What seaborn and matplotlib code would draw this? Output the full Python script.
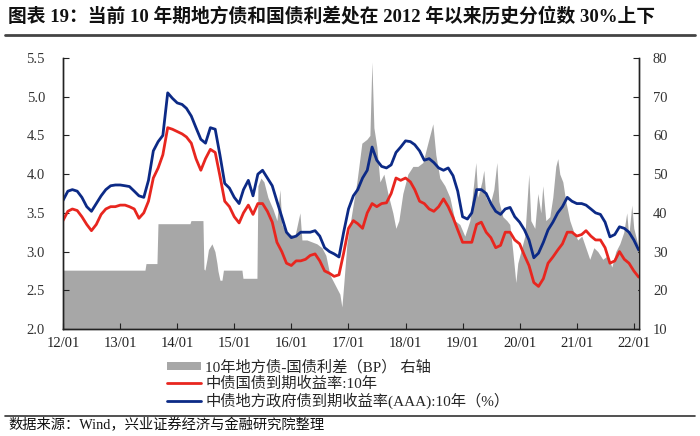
import numpy as np
import pandas as pd
import matplotlib
matplotlib.use('Agg')
import matplotlib.pyplot as plt
from matplotlib.patches import Patch
from matplotlib.lines import Line2D
import seaborn as sns

# ---------------- data ----------------
months = pd.date_range('2012-01-01', '2022-02-01', freq='MS')

# 中债国债到期收益率:10年 (%), monthly
gov_10y = [
    3.40, 3.52, 3.55, 3.53, 3.45, 3.35, 3.27, 3.35, 3.48, 3.55, 3.58, 3.58,  # 2012
    3.60, 3.60, 3.58, 3.55, 3.43, 3.50, 3.65, 3.95, 4.08, 4.25, 4.60, 4.58,  # 2013
    4.55, 4.52, 4.48, 4.40, 4.20, 4.05, 4.20, 4.32, 4.28, 3.98, 3.65, 3.58,  # 2014
    3.45, 3.37, 3.50, 3.60, 3.48, 3.62, 3.62, 3.52, 3.38, 3.12, 3.00, 2.85,  # 2015
    2.82, 2.88, 2.88, 2.90, 2.95, 2.97, 2.88, 2.75, 2.72, 2.68, 2.70, 2.98,  # 2016
    3.30, 3.40, 3.36, 3.30, 3.50, 3.62, 3.58, 3.62, 3.63, 3.75, 3.95, 3.92,  # 2017
    3.95, 3.90, 3.80, 3.65, 3.62, 3.55, 3.52, 3.58, 3.68, 3.58, 3.44, 3.28,  # 2018
    3.12, 3.12, 3.12, 3.35, 3.38, 3.25, 3.18, 3.05, 3.08, 3.25, 3.25, 3.15,  # 2019
    3.10, 2.95, 2.82, 2.60, 2.55, 2.65, 2.85, 2.93, 3.02, 3.10, 3.25, 3.25,  # 2020
    3.20, 3.22, 3.27, 3.20, 3.15, 3.15, 3.05, 2.85, 2.88, 3.00, 2.90, 2.85,  # 2021
    2.75, 2.67,                                                              # 2022
]

# 中债地方政府债到期收益率(AAA):10年 (%), monthly
local_10y = [
    3.66, 3.78, 3.80, 3.78, 3.70, 3.58, 3.52, 3.62, 3.72, 3.80, 3.85, 3.86,  # 2012
    3.86, 3.85, 3.84, 3.78, 3.72, 3.70, 3.92, 4.30, 4.42, 4.50, 5.05, 4.98,  # 2013
    4.92, 4.90, 4.85, 4.75, 4.60, 4.45, 4.40, 4.60, 4.58, 4.25, 3.88, 3.82,  # 2014
    3.70, 3.62, 3.80, 3.92, 3.72, 4.00, 4.05, 3.95, 3.85, 3.65, 3.45, 3.25,  # 2015
    3.18, 3.20, 3.25, 3.25, 3.25, 3.27, 3.20, 3.05, 3.00, 2.97, 2.93, 3.25,  # 2016
    3.55, 3.72, 3.80, 3.95, 4.05, 4.35, 4.18, 4.10, 4.08, 4.12, 4.28, 4.35,  # 2017
    4.43, 4.42, 4.38, 4.30, 4.18, 4.20, 4.15, 4.08, 4.05, 4.08, 3.98, 3.78,  # 2018
    3.45, 3.42, 3.50, 3.80, 3.80, 3.75, 3.62, 3.52, 3.48, 3.55, 3.57, 3.45,  # 2019
    3.38, 3.28, 3.15, 2.92, 2.98, 3.12, 3.28, 3.38, 3.50, 3.58, 3.70, 3.65,  # 2020
    3.62, 3.62, 3.60, 3.55, 3.50, 3.48, 3.38, 3.19, 3.22, 3.32, 3.30, 3.25,  # 2021
    3.15, 3.02,                                                              # 2022
]

# 10年地方债-国债利差 (BP), irregular observation times in decimal years
spread_t = [
    2012.000, 2013.436, 2013.454, 2013.646, 2013.664, 2014.224, 2014.242,
    2014.452, 2014.469, 2014.487, 2014.522, 2014.548, 2014.609, 2014.662,
    2014.697, 2014.715, 2014.750, 2014.785, 2014.811, 2015.135, 2015.153,
    2015.398, 2015.415, 2015.468, 2015.520, 2015.590, 2015.678, 2015.748,
    2015.800, 2015.835, 2015.905, 2015.975, 2016.063, 2016.151, 2016.186,
    2016.273, 2016.361, 2016.448, 2016.536, 2016.606, 2016.676, 2016.781,
    2016.851, 2016.886, 2016.921, 2016.974, 2017.061, 2017.149, 2017.236,
    2017.324, 2017.377, 2017.412, 2017.447, 2017.499, 2017.552, 2017.622,
    2017.692, 2017.779, 2017.832, 2017.884, 2017.954, 2018.042, 2018.130,
    2018.217, 2018.305, 2018.392, 2018.480, 2018.532, 2018.602, 2018.690,
    2018.778, 2018.865, 2018.953, 2019.040, 2019.128, 2019.198, 2019.233,
    2019.268, 2019.338, 2019.373, 2019.408, 2019.478, 2019.548, 2019.601,
    2019.636, 2019.706, 2019.776, 2019.828, 2019.881, 2019.934, 2019.968,
    2020.021, 2020.091, 2020.161, 2020.196, 2020.266, 2020.319, 2020.371,
    2020.406, 2020.459, 2020.529, 2020.581, 2020.634, 2020.669, 2020.704,
    2020.757, 2020.809, 2020.879, 2020.949, 2021.019, 2021.089, 2021.159,
    2021.229, 2021.300, 2021.370, 2021.457, 2021.545, 2021.615, 2021.685,
    2021.755, 2021.825, 2021.877, 2021.912, 2021.965, 2022.000, 2022.070,
]
spread_bp = [
    25.2, 25.2, 26.9, 26.9, 37.2, 37.2, 38.0,
    38.0, 25.5, 25.2, 28.0, 30.5, 32.0, 30.0,
    27.0, 25.0, 22.6, 22.6, 25.2, 25.2, 23.1,
    23.1, 47.0, 49.0, 48.0, 44.0, 41.0, 38.0,
    46.0, 37.0, 35.0, 34.5, 34.0, 40.0, 33.0,
    33.0, 32.5, 32.0, 31.0, 29.0, 24.0, 21.0,
    19.0, 15.7, 22.0, 32.0, 40.0, 48.0, 58.0,
    59.0, 60.0, 79.0, 62.0, 57.0, 48.0, 50.0,
    45.0, 40.0, 36.0, 38.0, 45.0, 50.0, 52.0,
    52.0, 53.0, 58.0, 63.0, 55.0, 49.0, 47.0,
    44.0, 38.0, 37.0, 34.0, 38.0, 48.0, 53.0,
    44.0, 48.0, 51.0, 44.0, 42.0, 46.0, 53.0,
    43.0, 39.0, 38.0, 37.0, 30.0, 22.0, 27.0,
    30.0, 34.0, 50.0, 38.0, 36.0, 45.0, 40.0,
    47.0, 38.0, 39.0, 44.0, 52.0, 54.0, 50.0,
    48.0, 43.0, 38.0, 35.0, 33.0, 34.0, 31.0,
    28.0, 31.0, 30.0, 28.0, 29.0, 26.0, 30.0,
    32.0, 35.0, 40.0, 34.0, 42.0, 36.0, 32.0,
]

title_text = '图表 19：当前 10 年期地方债和国债利差处在 2012 年以来历史分位数 30%上下'
source_text = '数据来源：Wind，兴业证券经济与金融研究院整理'
legend_labels = ['10年地方债-国债利差（BP） 右轴',
                 '中债国债到期收益率:10年',
                 '中债地方政府债到期收益率(AAA):10年（%）']
left_ticks = [2.0, 2.5, 3.0, 3.5, 4.0, 4.5, 5.0, 5.5]
right_ticks = [10, 20, 30, 40, 50, 60, 70, 80]
tick_years = list(range(2012, 2023))

# ---------------- style ----------------
sns.set_style('ticks')
plt.rcParams['font.family'] = ['Liberation Serif', 'Noto Sans CJK SC']
plt.rcParams['axes.unicode_minus'] = False

RED = '#E8261F'
BLUE = '#0C2A86'
GRAY = '#A7A7A7'

fig = plt.figure(figsize=(7.0, 4.36), dpi=100)
ax1 = fig.add_axes([63 / 700, 1 - 329 / 436, (639 - 63) / 700, (329 - 58) / 436])
ax2 = ax1.twinx()

# gray spread area on right axis
spread_dates = pd.Timestamp('2012-01-01') + pd.to_timedelta(
    (np.array(spread_t) - 2012.0) * 365.25, unit='D')
ax2.fill_between(spread_dates, 0, spread_bp, color=GRAY, linewidth=0)
ax2.set_ylim(10, 80)
ax2.set_yticks(right_ticks)
ax2.set_yticklabels([str(v) for v in right_ticks])

# lines on left axis
df = pd.DataFrame({'date': months, 'gov': gov_10y, 'local': local_10y})
sns.lineplot(data=df, x='date', y='gov', ax=ax1, color=RED, linewidth=2.0)
sns.lineplot(data=df, x='date', y='local', ax=ax1, color=BLUE, linewidth=2.0)
ax1.set_zorder(ax2.get_zorder() + 1)
ax1.patch.set_visible(False)

ax1.set_ylim(2.0, 5.5)
ax1.set_yticks(left_ticks)
ax1.set_yticklabels([f'{v:.1f}' for v in left_ticks])
ax1.set_xlim(pd.Timestamp('2012-01-01'), pd.Timestamp('2022-02-03'))
ax1.set_xticks([pd.Timestamp(f'{y}-01-01') for y in tick_years])
ax1.set_xticklabels([f'{y % 100:02d}/01' for y in tick_years])
ax1.set_xlabel('')
ax1.set_ylabel('')
ax2.set_ylabel('')

for ax in (ax1, ax2):
    ax.spines['top'].set_visible(False)
    for s in ('left', 'right', 'bottom'):
        ax.spines[s].set_color('#222222')
        ax.spines[s].set_linewidth(1.0)

ax1.tick_params(axis='y', direction='in', length=4, pad=13, labelsize=10.5,
                colors='#222222', labelcolor='#333333')
ax1.tick_params(axis='x', direction='in', length=4, pad=6, labelsize=10.5,
                colors='#222222', labelcolor='#222222')
ax2.tick_params(axis='y', direction='in', length=4, pad=10, labelsize=10.5,
                colors='#222222', labelcolor='#333333')

# legend
handles = [Patch(facecolor=GRAY, edgecolor='none'),
           Line2D([], [], color=RED, lw=2.0),
           Line2D([], [], color=BLUE, lw=2.0)]
fig.legend(handles, legend_labels, loc='upper left',
           bbox_to_anchor=(167 / 700, 1 - 360 / 436), frameon=False,
           fontsize=11, handlelength=2.2, handleheight=0.45,
           handletextpad=0.3, labelspacing=0.12, borderpad=0, borderaxespad=0)

# title, rules and source
fig.text(8 / 700, 1 - 16 / 436, title_text, fontsize=13.5, fontweight='bold',
         ha='left', va='center', color='#111111')
fig.add_artist(Line2D([5 / 700, 695 / 700], [1 - 35 / 436] * 2,
                      transform=fig.transFigure, color='#444444', lw=2.0))
fig.add_artist(Line2D([5 / 700, 695 / 700], [1 - 416 / 436] * 2,
                      transform=fig.transFigure, color='#333333', lw=1.2))
fig.text(8 / 700, 1 - 425 / 436, source_text, fontsize=10.3,
         ha='left', va='center', color='#111111')

fig.savefig('out.png', dpi=100)
